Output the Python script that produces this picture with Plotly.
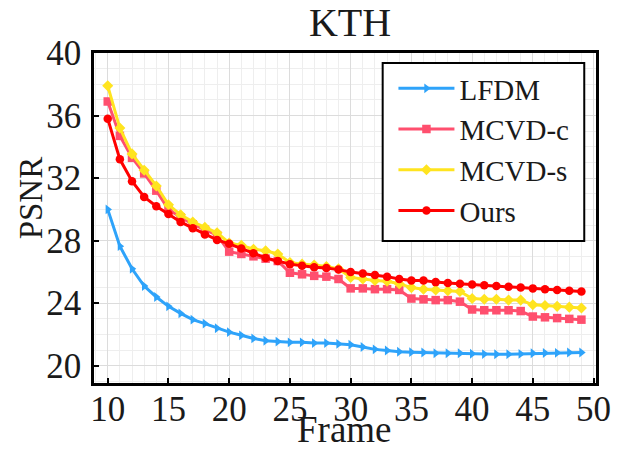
import plotly.graph_objects as go

frames = list(range(10, 50))

lfdm = [30.0, 27.65, 26.2, 25.1, 24.4, 23.8, 23.35, 22.95, 22.7, 22.4,
        22.15, 21.95, 21.75, 21.6, 21.55, 21.5, 21.5, 21.45, 21.45, 21.4,
        21.35, 21.2, 21.05, 20.98, 20.9, 20.87, 20.85, 20.8, 20.8, 20.8,
        20.77, 20.75, 20.74, 20.74, 20.76, 20.8, 20.82, 20.83, 20.85, 20.85]

mcvd_c = [36.9, 34.7, 33.3, 32.3, 31.2, 30.0, 29.5, 29.05, 28.7, 28.35,
          27.3, 27.15, 27.0, 26.85, 26.7, 25.95, 25.85, 25.75, 25.7, 25.55,
          24.95, 24.95, 24.9, 24.9, 24.85, 24.3, 24.25, 24.2, 24.2, 24.1,
          23.6, 23.55, 23.55, 23.55, 23.5, 23.15, 23.1, 23.05, 23.0, 22.95]

mcvd_s = [37.9, 35.2, 33.55, 32.5, 31.5, 30.3, 29.65, 29.2, 28.85, 28.5,
          27.85, 27.7, 27.45, 27.35, 27.15, 26.6, 26.5, 26.45, 26.35, 26.2,
          25.65, 25.55, 25.45, 25.4, 25.25, 25.0, 24.9, 24.85, 24.8, 24.75,
          24.3, 24.25, 24.25, 24.2, 24.2, 23.9, 23.85, 23.8, 23.75, 23.7]

ours = [35.8, 33.2, 31.8, 30.8, 30.2, 29.7, 29.2, 28.8, 28.4, 28.05,
        27.8, 27.5, 27.2, 26.9, 26.7, 26.5, 26.4, 26.3, 26.25, 26.15,
        26.0, 25.9, 25.8, 25.7, 25.55, 25.45, 25.45, 25.35, 25.3, 25.25,
        25.2, 25.15, 25.1, 25.05, 25.0, 24.95, 24.9, 24.85, 24.8, 24.75]

series = [
    ("LFDM", lfdm, "#2EA3FA", "triangle-right"),
    ("MCVD-c", mcvd_c, "#FF4F6E", "square"),
    ("MCVD-s", mcvd_s, "#FFE41F", "diamond"),
    ("Ours", ours, "#FF0000", "circle"),
]

FONT = "'Liberation Serif', 'Times New Roman', Times, 'DejaVu Serif', serif"
TXT = "#1a1a1a"

# the page body has a default 8px margin; positions below are page pixels
OFF = 8
W, H = 623 - OFF, 451 - OFF
PL, PT, PR, PB = 94 - OFF, 53 - OFF, 607 - OFF, 383 - OFF
PW, PH = PR - PL, PB - PT


def px(xp):
    return (xp - OFF - PL) / PW


def py(yp):
    return (PB - (yp - OFF)) / PH


fig = go.Figure()
for name, vals, color, sym in series:
    fig.add_trace(go.Scatter(
        x=frames, y=vals, name=name, mode="lines+markers",
        line=dict(color=color, width=3),
        marker=dict(symbol=sym, size=8.5, color=color),
    ))

axis_common = dict(
    showline=True, linecolor="black", linewidth=2.5, mirror=True,
    ticks="inside", ticklen=5, tickcolor="black", tickwidth=1.5,
    showgrid=True, gridcolor="#DCDCDC", gridwidth=1,
    zeroline=False,
    tickfont=dict(family=FONT, size=35, color=TXT),
)

fig.update_layout(
    width=W, height=H,
    margin=dict(l=PL, r=W - PR, t=PT, b=H - PB),
    paper_bgcolor="white", plot_bgcolor="white",
    title=dict(text="KTH", x=(350 - OFF) / W, xanchor="center",
               y=1 - (22 - OFF) / H, yanchor="middle",
               font=dict(family=FONT, size=40, color=TXT)),
    xaxis=dict(range=[8.87, 50.2], tick0=10, dtick=5, ticklabelstandoff=-7,
               minor=dict(dtick=1, showgrid=True, gridcolor="#EEEEEE", ticks=""),
               **axis_common),
    yaxis=dict(range=[18.9, 40], tick0=20, dtick=4, ticklabelstandoff=3,
               minor=dict(dtick=1, showgrid=True, gridcolor="#EEEEEE", ticks=""),
               **axis_common),
    legend=dict(x=px(400), y=py(63), xanchor="left", yanchor="top",
                bgcolor="rgba(0,0,0,0)", borderwidth=0,
                font=dict(family=FONT, size=29, color=TXT),
                tracegroupgap=0, itemwidth=56),
    showlegend=True,
    shapes=[
        dict(type="rect", xref="paper", yref="paper", layer="above",
             x0=px(389), x1=px(595), y0=py(241), y1=py(63),
             fillcolor="white", line=dict(color="black", width=2)),
    ],
    annotations=[
        dict(text="Frame", xref="paper", yref="paper",
             x=px(350), y=py(429), xanchor="center", yanchor="middle",
             showarrow=False, font=dict(family=FONT, size=37, color=TXT)),
        dict(text="PSNR", xref="paper", yref="paper", textangle=-90,
             x=px(30), y=py(198), xanchor="center", yanchor="middle",
             showarrow=False, font=dict(family=FONT, size=33, color=TXT)),
    ],
)

fig.write_html("out.html")
